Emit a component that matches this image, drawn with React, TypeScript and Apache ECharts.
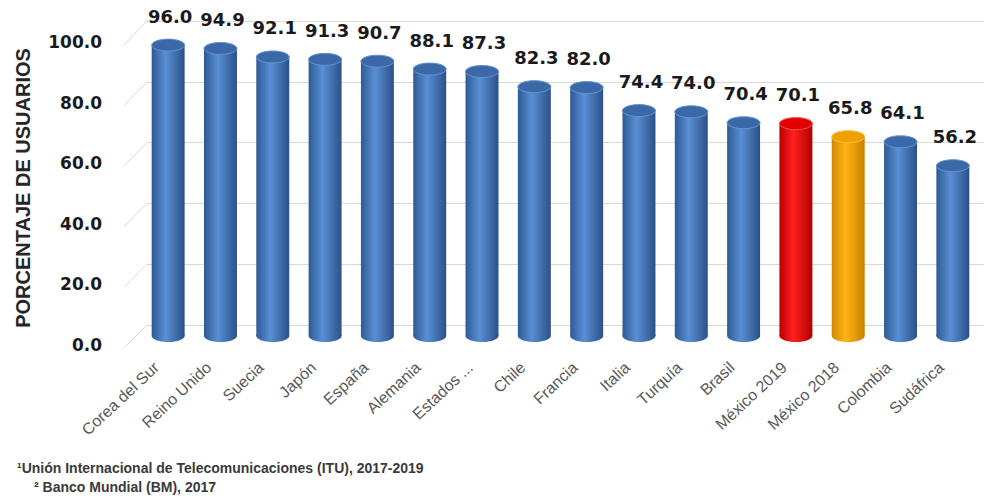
import React, { useEffect, useRef } from "react";
import * as echarts from "echarts";

const categories = [
  "Corea del Sur", "Reino Unido", "Suecia", "Japón", "España", "Alemania",
  "Estados ...", "Chile", "Francia", "Italia", "Turquía", "Brasil",
  "México 2019", "México 2018", "Colombia", "Sudáfrica",
];
const values = [96.0, 94.9, 92.1, 91.3, 90.7, 88.1, 87.3, 82.3, 82.0, 74.4, 74.0, 70.4, 70.1, 65.8, 64.1, 56.2];
const yTicks = [0, 20, 40, 60, 80, 100];
const yAxisTitle = "PORCENTAJE DE USUARIOS";
const footnotes = [
  "¹Unión Internacional de Telecomunicaciones (ITU), 2017-2019",
  "² Banco Mundial (BM), 2017",
];

type Palette = { edge: string; mid: string; edge2: string; cap: string; rim: string };
const BLUE: Palette = { edge: "#2d5a94", mid: "#5a8fd4", edge2: "#2a5189", cap: "#3b69a8", rim: "#6593d6" };
const RED: Palette = { edge: "#b80000", mid: "#ff2020", edge2: "#b00000", cap: "#e00000", rim: "#ff5050" };
const ORANGE: Palette = { edge: "#d08a00", mid: "#ffb317", edge2: "#c98200", cap: "#eea000", rim: "#ffc040" };
const highlight: Record<string, Palette> = { "México 2019": RED, "México 2018": ORANGE };

export default function App() {
  const ref = useRef<HTMLDivElement>(null);
  useEffect(() => {
    document.body.style.margin = "0";
    const chart = echarts.init(ref.current!, undefined, { renderer: "svg" });
    const option: any = {
      animation: false,
      backgroundColor: "#ffffff",
      grid: [
        { left: 147, right: 0, top: 21, bottom: 176 },
        { left: 104, width: 10, top: 42, bottom: 156 },
        { left: 142, right: 5, top: 33, bottom: 165 },
      ],
      xAxis: [
        { gridIndex: 0, type: "value", show: false },
        { gridIndex: 1, type: "value", show: false },
        {
          gridIndex: 2,
          type: "category",
          data: categories,
          axisLine: { show: false },
          axisTick: { show: false },
          axisLabel: {
            interval: 0,
            rotate: 43,
            margin: 18,
            padding: [0, 16, 0, 0],
            color: "#595959",
            fontSize: 16,
            fontFamily: "Liberation Sans, Arial, sans-serif",
          },
        },
      ],
      yAxis: [
        {
          gridIndex: 0, type: "value", min: 0, max: 100, interval: 20,
          axisLine: { show: false }, axisTick: { show: false }, axisLabel: { show: false },
          splitLine: { lineStyle: { color: "#d9d9d9", width: 1 } },
        },
        {
          gridIndex: 1, type: "value", min: 0, max: 100, interval: 20,
          axisLine: { show: false }, axisTick: { show: false }, splitLine: { show: false },
          axisLabel: {
            margin: 2,
            formatter: (v: number) => v.toFixed(1),
            color: "#1a1a1a",
            fontSize: 17,
            fontWeight: "bold",
            fontFamily: "DejaVu Sans, sans-serif",
          },
        },
        { gridIndex: 2, type: "value", min: 0, max: 100, show: false },
      ],
      graphic: [
        {
          type: "text",
          x: 23,
          y: 188,
          rotation: Math.PI / 2,
          style: {
            text: yAxisTitle,
            x: 0, y: 0,
            align: "center",
            verticalAlign: "middle",
            font: "bold 20px 'Liberation Sans', Arial, sans-serif",
            fill: "#262626",
          },
        },
        {
          type: "text",
          x: 17,
          y: 468,
          style: {
            text: footnotes[0],
            verticalAlign: "middle",
            font: "bold 14px 'Liberation Sans', Arial, sans-serif",
            fill: "#3a3a3a",
          },
        },
        {
          type: "text",
          x: 34,
          y: 487,
          style: {
            text: footnotes[1],
            verticalAlign: "middle",
            font: "bold 14px 'Liberation Sans', Arial, sans-serif",
            fill: "#3a3a3a",
          },
        },
      ],
      series: [
        {
          type: "custom",
          xAxisIndex: 2,
          yAxisIndex: 2,
          data: values.map((v, i) => [i, v]),
          renderItem: (params: any, api: any) => {
            const i = api.value(0);
            const v = api.value(1);
            const top = api.coord([i, v]);
            const base = api.coord([i, 0]);
            const w = api.size([1, 0])[0] * 0.63;
            const rx = w / 2;
            const ry = 6;
            const p = highlight[categories[params.dataIndex]] || BLUE;
            const grad = new echarts.graphic.LinearGradient(0, 0, 1, 0, [
              { offset: 0, color: p.edge },
              { offset: 0.42, color: p.mid },
              { offset: 1, color: p.edge2 },
            ]);
            return {
              type: "group",
              children: [
                { type: "ellipse", shape: { cx: top[0], cy: base[1], rx, ry }, style: { fill: grad } },
                { type: "rect", shape: { x: top[0] - rx, y: top[1], width: w, height: base[1] - top[1] }, style: { fill: grad } },
                { type: "ellipse", shape: { cx: top[0], cy: top[1], rx, ry }, style: { fill: p.cap, stroke: p.rim, lineWidth: 1 } },
                {
                  type: "text",
                  style: {
                    text: v.toFixed(1),
                    x: top[0] + 2,
                    y: top[1] - ry - 14,
                    align: "center",
                    verticalAlign: "bottom",
                    font: "bold 18px 'DejaVu Sans', sans-serif",
                    fill: "#1a1a1a",
                  },
                },
              ],
            };
          },
        },
      ],
    };
    chart.setOption(option);
    const slants = yTicks.map((t) => {
      const yBack = chart.convertToPixel({ yAxisIndex: 0 } as any, t) as unknown as number;
      const yLab = chart.convertToPixel({ yAxisIndex: 1 } as any, t) as unknown as number;
      return {
        type: "line",
        shape: { x1: 124, y1: yLab + 3, x2: 147, y2: yBack },
        style: { stroke: "#d9d9d9", lineWidth: 1 },
      };
    });
    chart.setOption({ graphic: [...option.graphic, ...slants] });
    return () => chart.dispose();
  }, []);
  return <div ref={ref} style={{ width: 984, height: 501, position: "absolute", left: 0, top: 0 }} />;
}
